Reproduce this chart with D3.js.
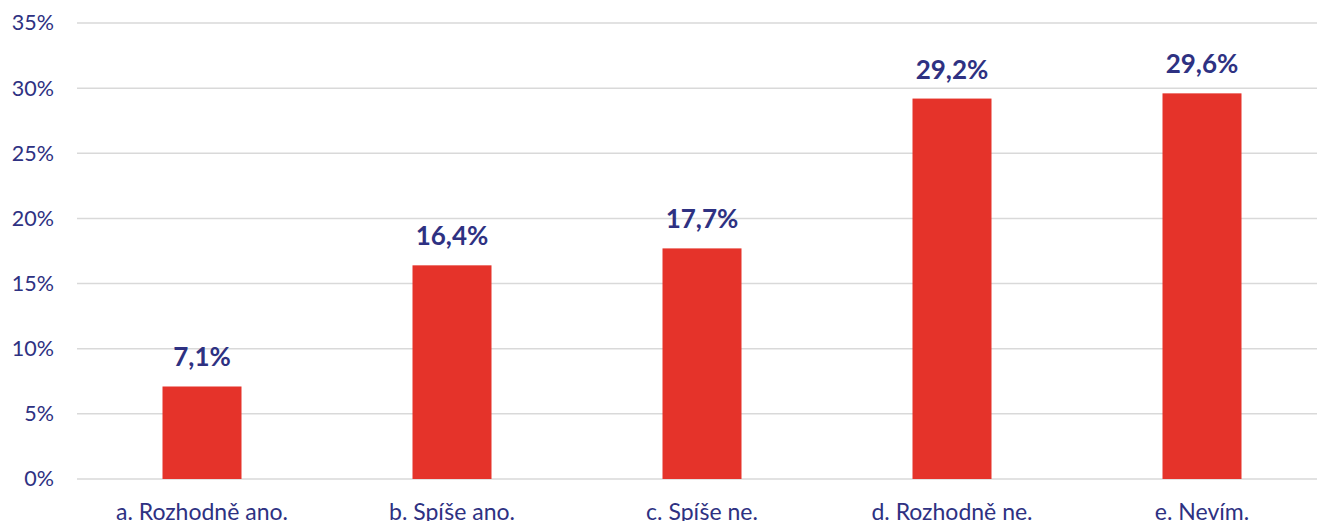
<!DOCTYPE html>
<html>
<head>
<meta charset="utf-8">
<script src="https://cdn.jsdelivr.net/npm/d3@7"></script>
<style>
  body { margin: 0; background: #fff; overflow: hidden; }
  text { font-family: Lato, "Open Sans", sans-serif; fill: #2e3182; }
</style>
</head>
<body>
<div id="chart"></div>
<script>
var categories = ["a. Rozhodně ano.", "b. Spíše ano.", "c. Spíše ne.", "d. Rozhodně ne.", "e. Nevím."];
var values = [7.1, 16.4, 17.7, 29.2, 29.6];
var yTicks = [0, 5, 10, 15, 20, 25, 30, 35];

var W = 1317, H = 521;
var margin = {top: 23, left: 77, bottom: 42};

var svg = d3.select("#chart").append("svg")
  .attr("width", W)
  .attr("height", H);

var x = d3.scaleBand()
  .domain(categories)
  .range([margin.left, margin.left + 250 * categories.length])
  .paddingInner(0.684)
  .paddingOuter(0.342);

var y = d3.scaleLinear()
  .domain([0, 35])
  .range([H - margin.bottom, margin.top]);

// gridlines
svg.append("g")
  .selectAll("line")
  .data(yTicks)
  .enter().append("line")
  .attr("x1", margin.left)
  .attr("x2", W)
  .attr("y1", function(d) { return y(d); })
  .attr("y2", function(d) { return y(d); })
  .attr("stroke", "#d9d9d9")
  .attr("stroke-width", 1.5);

// y axis labels
var yAxis = svg.append("g")
  .attr("transform", "translate(54,0)")
  .call(d3.axisLeft(y).tickValues(yTicks).tickSize(0).tickPadding(0)
    .tickFormat(function(d) { return d + "%"; }));
yAxis.select(".domain").remove();
yAxis.selectAll("text")
  .attr("font-size", 21.5)
  .style("font-family", "Lato, 'Open Sans', sans-serif")
  .attr("fill", "#2e3182");

// bars
svg.append("g")
  .selectAll("rect")
  .data(values)
  .enter().append("rect")
  .attr("x", function(d, i) { return x(categories[i]); })
  .attr("width", x.bandwidth())
  .attr("y", function(d) { return y(d); })
  .attr("height", function(d) { return y(0) - y(d); })
  .attr("fill", "#e5332a");

// value labels
svg.append("g")
  .selectAll("text")
  .data(values)
  .enter().append("text")
  .attr("x", function(d, i) { return x(categories[i]) + x.bandwidth() / 2; })
  .attr("y", function(d) { return y(d) - 20; })
  .attr("text-anchor", "middle")
  .attr("font-size", 26)
  .attr("font-weight", "bold")
  .text(function(d) { return d.toFixed(1).replace(".", ",") + "%"; });

// category labels (cut by the bottom edge, as in the source)
svg.append("g")
  .selectAll("text")
  .data(categories)
  .enter().append("text")
  .attr("x", function(d) { return x(d) + x.bandwidth() / 2; })
  .attr("y", 520)
  .attr("text-anchor", "middle")
  .attr("font-size", 23)
  .text(function(d) { return d; });
</script>
</body>
</html>
